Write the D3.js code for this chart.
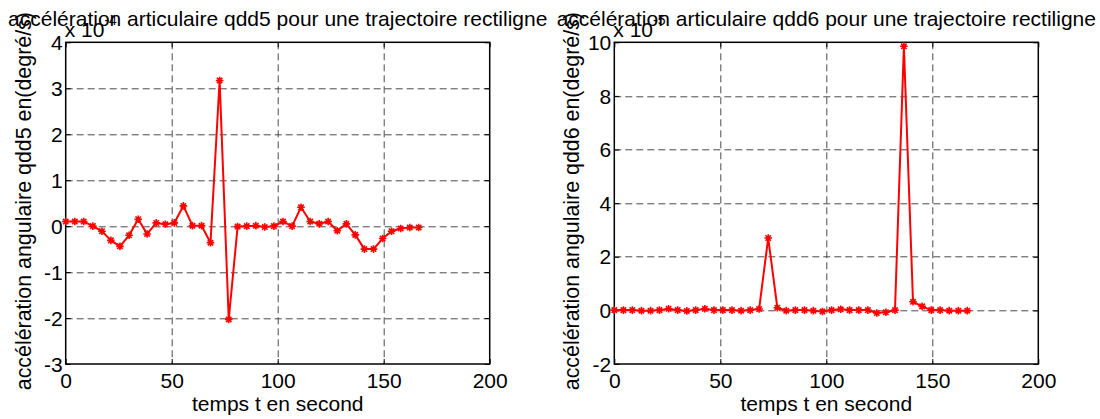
<!DOCTYPE html>
<html>
<head>
<meta charset="utf-8">
<script src="https://cdn.jsdelivr.net/npm/d3@7"></script>
<style>
  html, body { margin: 0; padding: 0; background: #fff; }
  svg { display: block; }
  text { font-family: "Liberation Sans", Arial, sans-serif; fill: #000; }
</style>
</head>
<body>
<svg id="chart" width="1100" height="419"></svg>
<script>
// ---- data ----
const timeS = [0, 4.3, 8.5, 12.8, 17.1, 21.3, 25.6, 29.9, 34.2, 38.4,
               42.7, 47.0, 51.2, 55.5, 59.8, 64.1, 68.3, 72.6, 76.9, 81.1,
               85.4, 89.7, 93.9, 98.2, 102.5, 106.8, 111.0, 115.3, 119.6, 123.8,
               128.1, 132.4, 136.6, 140.9, 145.2, 149.5, 153.7, 158.0, 162.3, 166.5];
// qdd5, in units of 1e-4
const qdd5 = [0.1, 0.1, 0.1, 0.0, -0.11, -0.31, -0.44, -0.2, 0.15, -0.17,
              0.07, 0.04, 0.07, 0.44, 0.01, 0.01, -0.36, 3.17, -2.03, -0.01,
              0.0, 0.01, -0.02, 0.0, 0.1, 0.0, 0.41, 0.1, 0.05, 0.1,
              -0.1, 0.05, -0.19, -0.5, -0.5, -0.27, -0.11, -0.05, -0.03, -0.03];
// qdd6, in units of 1e-5
const qdd6 = [0.01, 0.01, 0.01, -0.01, -0.01, 0.01, 0.06, 0.01, -0.02, 0.01,
              0.06, 0.01, 0.01, 0.01, -0.01, 0.01, 0.05, 2.7, 0.1, -0.01,
              0.01, 0.01, -0.01, -0.04, 0.01, 0.04, 0.01, 0.01, 0.01, -0.1,
              -0.07, 0.01, 9.85, 0.32, 0.15, 0.01, 0.01, -0.01, -0.01, -0.01];
const xTicks = [0, 50, 100, 150, 200];
const y5Ticks = [-3, -2, -1, 0, 1, 2, 3, 4];
const y6Ticks = [-2, 0, 2, 4, 6, 8, 10];

const titles = ["accélération articulaire qdd5 pour une trajectoire rectiligne",
                "accélération articulaire qdd6 pour une trajectoire rectiligne"];
const yLabels = ["accélération angulaire  qdd5 en(degré/s)",
                 "accélération angulaire  qdd6 en(degré/s)"];
const xLabel = "temps t en second";
const exponents = ["-4", "-5"];

// ---- drawing ----
const svg = d3.select("#chart");
const FS = 21;
const fmt = d => String(d);

function panel(opts) {
  const {left, right, top, bottom, ys, yTicks, yDomain, title, ylab, expo, labelX} = opts;
  const W = right - left, H = bottom - top;
  const g = svg.append("g").attr("transform", `translate(${left},${top})`);
  const x = d3.scaleLinear().domain([0, 200]).range([0, W]);
  const y = d3.scaleLinear().domain(yDomain).range([H, 0]);

  // grid
  const grid = g.append("g").attr("stroke", "#4a4a4a").attr("stroke-width", 1)
    .attr("stroke-dasharray", "7,4");
  grid.selectAll(".gx").data(xTicks.slice(1, -1)).join("line")
    .attr("x1", d => Math.round(x(d)) + 0.5).attr("x2", d => Math.round(x(d)) + 0.5)
    .attr("y1", 0).attr("y2", H);
  grid.selectAll(".gy").data(yTicks.slice(1, -1)).join("line")
    .attr("y1", d => Math.round(y(d)) + 0.5).attr("y2", d => Math.round(y(d)) + 0.5)
    .attr("x1", 0).attr("x2", W);

  // axes
  const styleAxis = sel => {
    sel.select(".domain").remove();
    sel.selectAll(".tick line").attr("stroke", "#000").attr("stroke-width", 1);
    sel.selectAll("text").style("font-size", FS + "px")
      .style("font-family", '"Liberation Sans", Arial, sans-serif').attr("fill", "#000");
  };
  g.append("g").attr("transform", `translate(0,${H})`)
    .call(d3.axisBottom(x).tickValues(xTicks).tickFormat(fmt).tickSizeInner(-5).tickSizeOuter(0).tickPadding(9))
    .call(styleAxis)
    .call(s => s.selectAll("text").attr("y", 9).attr("dy", "0.71em"));
  g.append("g")
    .call(d3.axisTop(x).tickValues(xTicks).tickSizeInner(-5).tickSizeOuter(0).tickFormat(""))
    .call(styleAxis);
  g.append("g")
    .call(d3.axisLeft(y).tickValues(yTicks).tickFormat(fmt).tickSizeInner(-5).tickSizeOuter(0).tickPadding(4))
    .call(styleAxis)
    .call(s => s.selectAll("text").attr("x", -3).attr("dy", "0.34em"));
  g.append("g").attr("transform", `translate(${W},0)`)
    .call(d3.axisRight(y).tickValues(yTicks).tickSizeInner(-5).tickSizeOuter(0).tickFormat(""))
    .call(styleAxis);

  // box
  g.append("rect").attr("x", 0).attr("y", 0).attr("width", W).attr("height", H)
    .attr("fill", "none").attr("stroke", "#000").attr("stroke-width", 1.5);

  // line
  const line = d3.line().x((d, i) => x(timeS[i])).y(d => y(d));
  g.append("path").datum(ys).attr("d", line)
    .attr("fill", "none").attr("stroke", "#ff0000").attr("stroke-width", 2)
    .attr("stroke-linejoin", "round");
  const s = 3.8, dd = 2.7;
  const star = `M${-s},0H${s}M0,${-s}V${s}M${-dd},${-dd}L${dd},${dd}M${-dd},${dd}L${dd},${-dd}`;
  g.append("g").selectAll("path").data(ys).join("path")
    .attr("transform", (d, i) => `translate(${x(timeS[i])},${y(d)})`)
    .attr("d", star).attr("fill", "none").attr("stroke", "#ff0000").attr("stroke-width", 1.6);

  // title
  svg.append("text").attr("x", left + W / 2).attr("y", 26).attr("text-anchor", "middle")
    .style("font-size", "21px").text(title);
  // x label
  svg.append("text").attr("x", left + W / 2).attr("y", 411).attr("text-anchor", "middle")
    .style("font-size", FS + "px").text(xLabel);
  // y label
  svg.append("text").attr("transform", `translate(${labelX},${top + H / 2 - 2}) rotate(-90)`)
    .attr("text-anchor", "middle").style("font-size", "21.4px").text(ylab);
  // exponent
  const ex = svg.append("text").attr("x", left - 1).attr("y", 37).style("font-size", FS + "px");
  ex.append("tspan").text("x 10");
  ex.append("tspan").attr("dy", -12).style("font-size", "14px").text(expo);
}

panel({left: 65.7, right: 489.7, top: 42.3, bottom: 364, ys: qdd5, yTicks: y5Ticks,
       yDomain: [-3, 4], title: titles[0], ylab: yLabels[0], expo: exponents[0], labelX: 31});
panel({left: 614.3, right: 1038.3, top: 42.3, bottom: 364, ys: qdd6, yTicks: y6Ticks,
       yDomain: [-2, 10], title: titles[1], ylab: yLabels[1], expo: exponents[1], labelX: 579});
</script>
</body>
</html>
